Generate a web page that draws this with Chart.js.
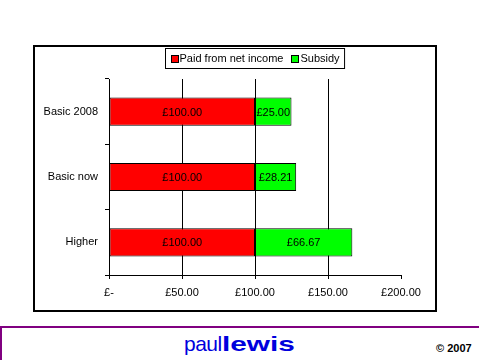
<!DOCTYPE html>
<html>
<head>
<meta charset="utf-8">
<script src="https://cdn.jsdelivr.net/npm/chart.js@4/dist/chart.umd.min.js"></script>
<style>
  html, body { margin:0; padding:0; background:#fff; width:479px; height:360px; overflow:hidden; font-family:"Liberation Sans", Arial, sans-serif; }
  #box { position:absolute; left:33px; top:45px; width:400px; height:263px; border:2px solid #000; }
  #box canvas { position:absolute; left:0; top:0; }
  #hline { position:absolute; left:0; top:326px; width:479px; height:2px; background:#800080; }
  #vline { position:absolute; left:0; top:326px; width:2px; height:34px; background:#800080; }
  #logo { position:absolute; left:184px; top:333px; height:24px; line-height:21px; font-size:21px; color:#0000DD; white-space:nowrap; }
  #logo .p { position:absolute; left:0; top:0; letter-spacing:-0.5px; }
  #logo .l { position:absolute; left:38px; top:0; font-weight:bold; display:inline-block; transform:scaleX(1.42); transform-origin:0 0; }
  #copy { position:absolute; left:436px; top:342px; font-size:11px; font-weight:bold; color:#000; line-height:12px; white-space:nowrap; }
</style>
</head>
<body>
<div id="box"><canvas id="c" width="400" height="263"></canvas></div>
<div id="hline"></div>
<div id="vline"></div>
<div id="logo"><span class="p">paul</span><span class="l">lewis</span></div>
<div id="copy">© 2007</div>
<script>
const categories = ['Basic 2008', 'Basic now', 'Higher'];
const paidFromNetIncome = [100, 100, 100];
const subsidy = [25.00, 28.21, 66.67];
const seriesNames = ['Paid from net income', 'Subsidy'];
const xTickLabels = ['£-', '£50.00', '£100.00', '£150.00', '£200.00'];

const FONT = '"Liberation Sans", Arial, sans-serif';

const legendBoxPlugin = {
  id: 'legendBox',
  afterDraw(chart) {
    const ctx = chart.ctx;
    ctx.save();
    ctx.font = '11px ' + FONT;
    const sw = 7, gapSw = 2, gapItem = 8, padL = 5, padR = 5;
    const items = chart.data.datasets.map(d => ({ label: d.label, color: d.backgroundColor, w: ctx.measureText(d.label).width }));
    let total = padL + padR;
    items.forEach((it, i) => { total += sw + gapSw + it.w + (i < items.length - 1 ? gapItem : 0); });
    const ca = chart.chartArea;
    const cx = (ca.left + ca.right) / 2;
    const left = Math.round(cx - total / 2) + 0.5;
    const top = 1.5, h = 20;
    ctx.fillStyle = '#fff';
    ctx.fillRect(left, top, total, h);
    ctx.strokeStyle = '#000';
    ctx.lineWidth = 1;
    ctx.strokeRect(left, top, total, h);
    let x = left + padL;
    ctx.textBaseline = 'middle';
    ctx.textAlign = 'left';
    items.forEach(it => {
      ctx.fillStyle = it.color;
      ctx.fillRect(Math.round(x) + 0.5, 8.5, sw, sw);
      ctx.strokeStyle = '#000';
      ctx.strokeRect(Math.round(x) + 0.5, 8.5, sw, sw);
      x += sw + gapSw;
      ctx.fillStyle = '#000';
      ctx.fillText(it.label, x, top + h / 2 + 0.5);
      x += it.w + gapItem;
    });
    ctx.restore();
  }
};

const barLabelPlugin = {
  id: 'barLabels',
  afterDatasetsDraw(chart) {
    const ctx = chart.ctx;
    ctx.save();
    ctx.font = '11px ' + FONT;
    ctx.fillStyle = '#000';
    ctx.textAlign = 'center';
    ctx.textBaseline = 'middle';
    chart.data.datasets.forEach((ds, di) => {
      const meta = chart.getDatasetMeta(di);
      meta.data.forEach((bar, i) => {
        const v = ds.data[i];
        const cx = (bar.x + bar.base) / 2;
        ctx.fillText('£' + v.toFixed(2), cx, bar.y + 1);
      });
    });
    ctx.restore();
  }
};

new Chart(document.getElementById('c'), {
  type: 'bar',
  data: {
    labels: categories,
    datasets: [
      { label: seriesNames[0], data: paidFromNetIncome, backgroundColor: '#FF0000', borderColor: '#000', borderWidth: 1, borderSkipped: false },
      { label: seriesNames[1], data: subsidy, backgroundColor: '#00FF00', borderColor: '#000', borderWidth: 1, borderSkipped: false }
    ]
  },
  plugins: [legendBoxPlugin, barLabelPlugin],
  options: {
    indexAxis: 'y',
    responsive: false,
    animation: false,
    devicePixelRatio: 1,
    categoryPercentage: 1,
    barPercentage: 0.43,
    layout: { padding: { top: 32, right: 34, left: 0, bottom: 0 } },
    plugins: { legend: { display: false }, tooltip: { enabled: false } },
    scales: {
      x: {
        stacked: true,
        min: 0, max: 200,
        ticks: {
          stepSize: 50,
          color: '#000',
          font: { family: FONT, size: 11 },
          padding: 7,
          maxRotation: 0,
          callback: (v, i) => xTickLabels[i]
        },
        grid: {
          color: c => (c.tick && c.tick.value === 200) ? 'rgba(0,0,0,0)' : '#000',
          tickColor: '#000',
          tickLength: 4,
          lineWidth: 1
        },
        border: { display: true, color: '#000', width: 1 },
        afterFit: s => { s.height = 35; }
      },
      y: {
        stacked: true,
        ticks: { color: '#000', font: { family: FONT, size: 11 }, padding: 7 },
        grid: { drawOnChartArea: false, offset: true, tickLength: 4, color: '#000', tickColor: '#000' },
        border: { display: true, color: '#000', width: 1 },
        afterFit: s => { s.width = 74; }
      }
    }
  }
});
</script>
</body>
</html>
